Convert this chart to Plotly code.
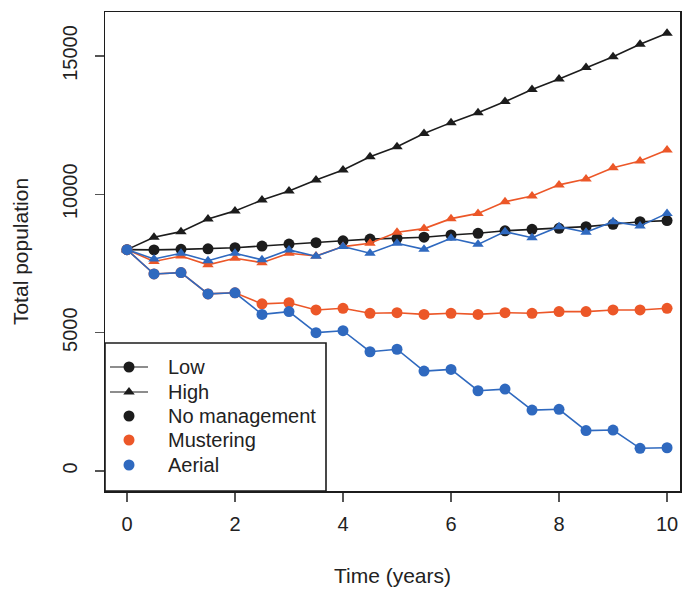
import plotly.graph_objects as go

time_years = [0, 0.5, 1, 1.5, 2, 2.5, 3, 3.5, 4, 4.5, 5, 5.5, 6, 6.5, 7, 7.5, 8, 8.5, 9, 9.5, 10]

none_low = [8000, 7990, 8010, 8030, 8070, 8130, 8200, 8250, 8320, 8380, 8410, 8450, 8530, 8590, 8680, 8735, 8770, 8830, 8915, 9010, 9050]
none_high = [8000, 8450, 8650, 9110, 9400, 9790, 10120, 10520, 10880, 11360, 11720, 12200, 12590, 12950, 13350, 13790, 14170, 14580, 14970, 15420, 15820]
must_low = [8000, 7120, 7170, 6400, 6440, 6040, 6080, 5820, 5880, 5700, 5720, 5660, 5700, 5660, 5720, 5700, 5760, 5760, 5820, 5820, 5880]
must_high = [8000, 7570, 7770, 7450, 7690, 7530, 7870, 7770, 8110, 8230, 8630, 8760, 9120, 9310, 9730, 9940, 10340, 10550, 10960, 11200, 11600]
aer_low = [8000, 7120, 7170, 6400, 6440, 5660, 5760, 5000, 5070, 4310, 4400, 3610, 3670, 2900, 2960, 2200, 2230, 1460, 1480, 820, 840]
aer_high = [8000, 7660, 7870, 7600, 7870, 7630, 7990, 7760, 8110, 7870, 8230, 8010, 8410, 8190, 8650, 8430, 8830, 8630, 9010, 8855, 9310]

x_ticks = [0, 2, 4, 6, 8, 10]
x_tick_labels = ["0", "2", "4", "6", "8", "10"]
y_ticks = [0, 5000, 10000, 15000]
y_tick_labels = ["0", "5000", "10000", "15000"]

legend_labels = ["Low", "High", "No management", "Mustering", "Aerial"]

BLACK = "#1c1c1c"
ORANGE = "#EC5728"
BLUE = "#2F69BF"
FONT = "Liberation Sans, Arial, sans-serif"

W, H = 682, 589
ML, MR, MT, MB = 105, 2, 12, 98

fig = go.Figure()

def add_series(y, color, symbol):
    fig.add_trace(go.Scatter(
        x=time_years, y=y, mode="lines+markers",
        line=dict(color=color, width=1.6),
        marker=dict(color=color, symbol=symbol, size=11 if symbol == "circle" else 10,
                    line=dict(width=0)),
        showlegend=False, hoverinfo="skip"))

add_series(none_high, BLACK, "triangle-up")
add_series(none_low, BLACK, "circle")
add_series(must_high, ORANGE, "triangle-up")
add_series(must_low, ORANGE, "circle")
add_series(aer_high, BLUE, "triangle-up")
add_series(aer_low, BLUE, "circle")

# ---- legend (drawn on an overlay axis measured in pixels) ----
box_l, box_r, box_t, box_b = 105, 326, 343, 491
row_y = [367, 392, 416, 440, 465]
sym_x0, sym_x1, sym_xc, text_x = 110, 148, 129, 166
leg_style = [("line", BLACK, "circle"), ("line", BLACK, "triangle-up"),
             ("pt", BLACK, "circle"), ("pt", ORANGE, "circle"), ("pt", BLUE, "circle")]

fig.add_trace(go.Scatter(
    x=[box_l, box_r, box_r, box_l, box_l], y=[box_t, box_t, box_b, box_b, box_t],
    xaxis="x2", yaxis="y2", mode="lines", fill="toself", fillcolor="white",
    line=dict(color=BLACK, width=1.6), showlegend=False, hoverinfo="skip"))

for (kind, col, sym), yy, lab in zip(leg_style, row_y, legend_labels):
    if kind == "line":
        fig.add_trace(go.Scatter(x=[sym_x0, sym_x1], y=[yy, yy], xaxis="x2", yaxis="y2",
                                 mode="lines", line=dict(color=col, width=1.2),
                                 showlegend=False, hoverinfo="skip"))
    fig.add_trace(go.Scatter(x=[sym_xc], y=[yy], xaxis="x2", yaxis="y2", mode="markers",
                             marker=dict(color=col, symbol=sym, size=11 if sym == "circle" else 10,
                                         line=dict(width=0)),
                             showlegend=False, hoverinfo="skip"))
    fig.add_annotation(x=text_x, y=yy, xref="x2", yref="y2", text=lab, showarrow=False,
                       xanchor="left", yanchor="middle",
                       font=dict(size=20, color="#222222", family=FONT))

fig.update_layout(
    width=W, height=H,
    margin=dict(l=ML, r=MR, t=MT, b=MB, autoexpand=False),
    paper_bgcolor="white", plot_bgcolor="white",
    font=dict(family=FONT, size=20, color="#222222"),
    showlegend=False,
    xaxis=dict(range=[-0.407, 10.24], tickvals=x_ticks, ticktext=x_tick_labels,
               ticks="outside", ticklen=9,
               tickcolor="#555555", tickwidth=1.2,
               showline=True, mirror=True, linecolor=BLACK, linewidth=1.5,
               showgrid=False, zeroline=False,
               ticklabelstandoff=5, tickfont=dict(size=20),
               title=dict(text="Time (years)", standoff=35, font=dict(size=21))),
    yaxis=dict(range=[-723, 16588], tickvals=y_ticks, ticktext=y_tick_labels,
               ticks="outside", ticklen=9,
               tickcolor="#555555", tickwidth=1.2, tickangle=-90,
               showline=True, mirror=True, linecolor=BLACK, linewidth=1.5,
               showgrid=False, zeroline=False,
               ticklabelstandoff=10, tickfont=dict(size=20),
               title=dict(text="Total population", standoff=24, font=dict(size=21))),
    xaxis2=dict(overlaying="x", range=[ML, W - MR], visible=False, fixedrange=True),
    yaxis2=dict(overlaying="y", range=[H - MB, MT], visible=False, fixedrange=True),
)

fig.write_html("out.html",
               config={"displayModeBar": False, "staticPlot": True},
               post_script="document.body.style.margin='0';document.body.style.overflow='hidden';")
